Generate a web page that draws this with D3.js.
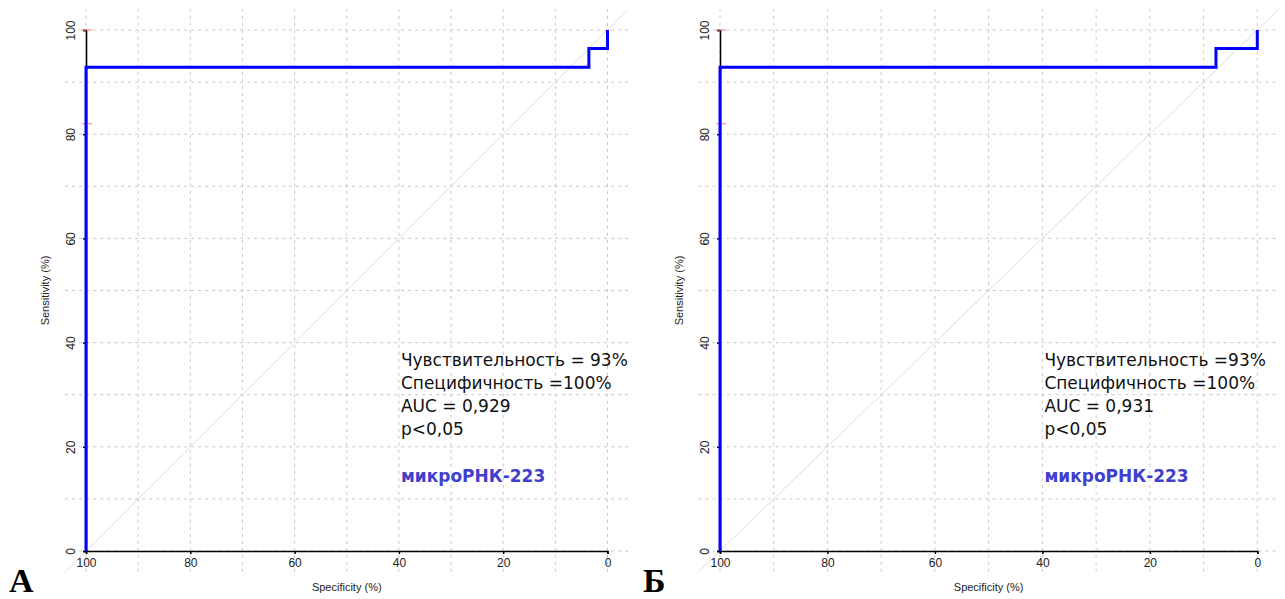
<!DOCTYPE html>
<html>
<head>
<meta charset="utf-8">
<script src="https://cdn.jsdelivr.net/npm/d3@7"></script>
<style>
  body { margin: 0; background: #fff; }
  svg { display: block; }
</style>
</head>
<body>
<svg id="chart" width="1285" height="599"></svg>
<script>
// values
const tickValues = [0, 20, 40, 60, 80, 100];
const gridValues = [0, 10, 20, 30, 40, 50, 60, 70, 80, 90, 100];

const specA = [100, 100, 3.57, 3.57, 0, 0];
const sensA = [0, 92.86, 92.86, 96.43, 96.43, 100];
const specB = [100, 100, 7.69, 7.69, 0, 0];
const sensB = [0, 92.86, 92.86, 96.43, 96.43, 100];

const statsA = ['Чувствительность = 93%', 'Специфичность =100%', 'AUC = 0,929', 'p<0,05'];
const statsB = ['Чувствительность =93%', 'Специфичность =100%', 'AUC = 0,931', 'p<0,05'];
const mirLabel = 'микроРНК-223';
const letters = ['А', 'Б'];
const redTicks = [100, 82];

const svg = d3.select('#chart');

// one panel = one ROC plot
function panel(x0, x1, spec, sens, stats, letter) {
    const x = d3.scaleLinear().domain([100, 0]).range([x0, x1]);
    const y = d3.scaleLinear().domain([0, 100]).range([551, 30]);
    const g = svg.append('g');

    // dotted grid, runs a bit past the axes
    g.selectAll('.vg').data(gridValues).enter().append('line')
        .attr('x1', d => x(d)).attr('x2', d => x(d))
        .attr('y1', y(-4)).attr('y2', y(104))
        .attr('stroke', '#c8c8c8').attr('stroke-width', 1).attr('stroke-dasharray', '3,4');
    g.selectAll('.hg').data(gridValues).enter().append('line')
        .attr('y1', d => y(d)).attr('y2', d => y(d))
        .attr('x1', x(104)).attr('x2', x(-4))
        .attr('stroke', '#c8c8c8').attr('stroke-width', 1).attr('stroke-dasharray', '3,4');

    // diagonal reference
    g.append('line')
        .attr('x1', x(104)).attr('y1', y(-4))
        .attr('x2', x(-4)).attr('y2', y(104))
        .attr('stroke', '#dcdcdc').attr('stroke-width', 1);

    // axes
    const ax = g.append('g').attr('transform', `translate(0,${y(0)})`)
        .call(d3.axisBottom(x).tickValues(tickValues).tickSize(3).tickPadding(4));
    const ay = g.append('g').attr('transform', `translate(${x(100)},0)`)
        .call(d3.axisLeft(y).tickValues(tickValues).tickSize(3).tickPadding(4));
    [ax, ay].forEach(a => {
        a.select('.domain').attr('stroke', '#000').attr('stroke-width', 1.6);
        a.selectAll('.tick line').attr('stroke', '#000').attr('stroke-width', 1.5);
        a.selectAll('text').attr('font-family', 'Liberation Sans, Arial, sans-serif')
            .attr('font-size', 12).attr('fill', '#222');
    });
    ay.selectAll('.tick text')
        .attr('transform', 'rotate(-90)')
        .attr('x', 0).attr('y', -11).attr('dy', 0)
        .attr('text-anchor', 'middle');

    g.selectAll('.rt').data(redTicks).enter().append('line')
        .attr('x1', x(100) - 4).attr('x2', x(100) + 6)
        .attr('y1', d => y(d)).attr('y2', d => y(d))
        .attr('stroke', '#f08080').attr('stroke-width', 1);

    // axis titles
    g.append('text')
        .attr('x', (x0 + x1) / 2).attr('y', 591)
        .attr('text-anchor', 'middle')
        .attr('font-family', 'Liberation Sans, Arial, sans-serif').attr('font-size', 11)
        .attr('fill', '#222').text('Specificity (%)');
    g.append('text')
        .attr('transform', `translate(${x0 - 37},${(y(0) + y(100)) / 2}) rotate(-90)`)
        .attr('text-anchor', 'middle')
        .attr('font-family', 'Liberation Sans, Arial, sans-serif').attr('font-size', 11)
        .attr('fill', '#222').text('Sensitivity (%)');

    // ROC curve
    const line = d3.line().x(d => x(d[0])).y(d => y(d[1]));
    g.append('path')
        .datum(d3.zip(spec, sens))
        .attr('d', line)
        .attr('fill', 'none').attr('stroke', '#0000ff').attr('stroke-width', 3);

    // stats text
    const tx = x(40) + 2;
    g.selectAll('.st').data(stats).enter().append('text')
        .attr('x', tx).attr('y', (d, i) => 366 + i * 23)
        .attr('font-family', 'DejaVu Sans, Verdana, sans-serif').attr('font-size', 17)
        .attr('fill', '#111').text(d => d);
    g.append('text')
        .attr('x', tx).attr('y', 482)
        .attr('font-family', 'DejaVu Sans, Verdana, sans-serif').attr('font-size', 17)
        .attr('font-weight', 'bold').attr('fill', '#4040cc').text(mirLabel);

    // panel letter
    g.append('text')
        .attr('x', x0 - 77).attr('y', 592)
        .attr('font-family', 'Liberation Serif, Times New Roman, serif').attr('font-size', 34)
        .attr('font-weight', 'bold').attr('fill', '#000').text(letter);
}

panel(86, 607.5, specA, sensA, statsA, letters[0]);
panel(720, 1257.3, specB, sensB, statsB, letters[1]);
</script>
</body>
</html>
